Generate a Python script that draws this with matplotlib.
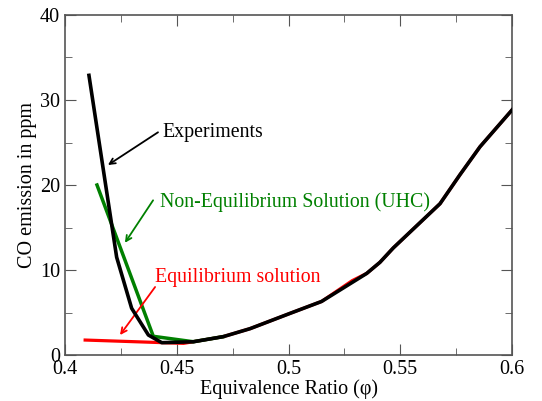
import matplotlib
matplotlib.use('Agg')
import matplotlib.pyplot as plt
from matplotlib.ticker import MultipleLocator

plt.rcParams['font.family'] = ['Liberation Serif', 'DejaVu Serif']

# Measured CO emission
exp_phi = [0.4107, 0.4231, 0.4298, 0.4373, 0.4433, 0.4574, 0.4708, 0.4828,
           0.5007, 0.5148, 0.535, 0.5409, 0.5469, 0.5678, 0.5767, 0.5857, 0.6006]
exp_co = [32.9, 11.5, 5.5, 2.35, 1.45, 1.56, 2.16, 3.1,
          4.9, 6.3, 9.6, 10.9, 12.6, 17.8, 21.2, 24.5, 29.0]

# Non-equilibrium (UHC) model
neq_phi = [0.4143, 0.4395, 0.4574, 0.4708]
neq_co = [20.0, 2.2, 1.56, 2.16]

# Equilibrium model
eq_phi = [0.409, 0.453, 0.4574, 0.4708, 0.4828, 0.5007, 0.5148, 0.5285, 0.535,
          0.5409, 0.5469, 0.5678, 0.5767, 0.5857, 0.6006]
eq_co = [1.76, 1.37, 1.56, 2.16, 3.1, 4.9, 6.3, 8.75, 9.6,
         10.9, 12.6, 17.8, 21.2, 24.5, 29.0]

fig = plt.figure(figsize=(5.42, 4.01), dpi=100)
ax = fig.add_axes([0.12, 0.1147, 0.8246, 0.8479])

ax.plot(eq_phi, eq_co, color='#ff0000', lw=2.3, zorder=2)
ax.plot(neq_phi, neq_co, color='#008000', lw=2.5, zorder=3)
ax.plot(exp_phi, exp_co, color='black', lw=2.6, zorder=4)

ax.set_xlim(0.4, 0.6)
ax.set_ylim(0, 40)
ax.xaxis.set_minor_locator(MultipleLocator(0.025))
ax.yaxis.set_major_locator(MultipleLocator(10))
ax.yaxis.set_minor_locator(MultipleLocator(5))
ax.set_xticks([0.4, 0.45, 0.5, 0.55, 0.6])
ax.set_xticklabels(['0.4', '0.45', '0.5', '0.55', '0.6'])
ax.tick_params(which='both', direction='in', top=True, right=True,
               labelsize=14.5, color='#555555')
ax.tick_params(which='major', length=8)
ax.tick_params(which='minor', length=5)
for s in ax.spines.values():
    s.set_color('#555555')
    s.set_linewidth(1.2)

ax.set_xlabel('Equivalence Ratio (\u03c6)', fontsize=14.5, labelpad=0)
ax.set_ylabel('CO emission in ppm', fontsize=14.5, labelpad=2)

# Curve labels
ax.text(0.4438, 26.2, 'Experiments', fontsize=14.3, color='black',
        va='center', ha='left')
ax.text(0.4425, 18.0, 'Non-Equilibrium Solution (UHC)', fontsize=14.3,
        color='#008000', va='center', ha='left')
ax.text(0.4403, 9.1, 'Equilibrium solution', fontsize=14.3,
        color='#ff0000', va='center', ha='left')

# Pointers from labels to curves
ax.annotate('', xy=(0.4192, 22.35), xytext=(0.4416, 26.2),
            arrowprops=dict(arrowstyle='->', color='black', lw=1.3,
                            shrinkA=0, shrinkB=0))
ax.annotate('', xy=(0.4268, 13.2), xytext=(0.4394, 18.2),
            arrowprops=dict(arrowstyle='->', color='#008000', lw=1.3,
                            shrinkA=0, shrinkB=0))
ax.annotate('', xy=(0.4246, 2.35), xytext=(0.4403, 8.0),
            arrowprops=dict(arrowstyle='->', color='#ff0000', lw=1.3,
                            shrinkA=0, shrinkB=0))

fig.savefig('out.png', dpi=100)
